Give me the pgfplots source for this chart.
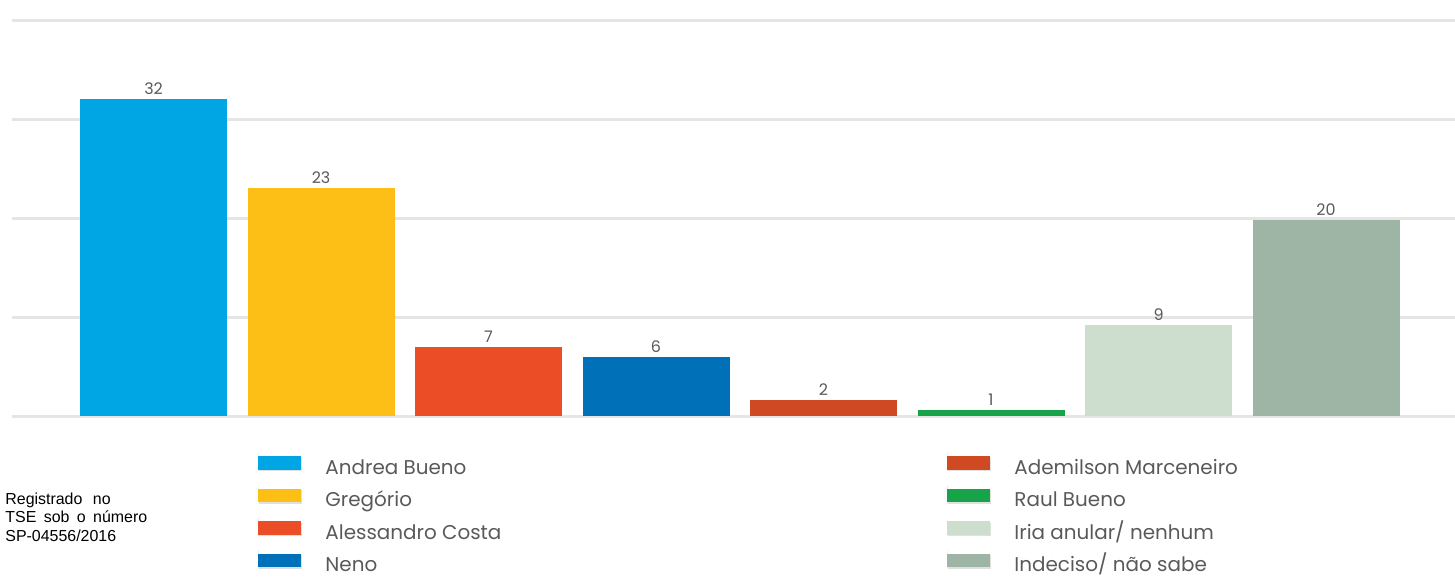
\documentclass[border=0pt]{standalone}
\usepackage{pgfplots}
\pgfplotsset{compat=1.18}
\usepackage{fontspec}
\setmainfont{Poppins}
\newfontfamily\footfont{Liberation Sans}

\definecolor{cAndrea}{HTML}{00A5E3}
\definecolor{cGregorio}{HTML}{FDBF16}
\definecolor{cAlessandro}{HTML}{EB4E26}
\definecolor{cNeno}{HTML}{0070B8}
\definecolor{cAdemilson}{HTML}{CF4A22}
\definecolor{cRaul}{HTML}{17A34A}
\definecolor{cIria}{HTML}{CDDDCE}
\definecolor{cIndeciso}{HTML}{9EB5A6}

\begin{document}
\begin{tikzpicture}
\useasboundingbox (0,0) rectangle (727.5bp,290.5bp);
\begin{axis}[
  at={(6bp,82.5bp)}, anchor=south west,
  scale only axis, width=721.5bp, height=198bp,
  xmin=-0.845, xmax=7.77, ymin=0, ymax=40,
  ytick={0,10,20,30,40}, yticklabels={}, xtick=\empty,
  ymajorgrids, major grid style={draw=black!10, line width=1.5bp},
  axis line style={draw=none}, major tick length=0pt,
  clip=false,
  point meta=explicit symbolic,
  nodes near coords,
  every node near coord/.append style={font=\fontsize{8}{8}\selectfont, text=black!65, inner sep=2bp, anchor=south},
  mybar/.style={ybar, bar width=73.5bp, bar shift=0pt, draw=none, fill=#1,
    legend image code/.code={\path (0bp,8bp) -- (0bp,-1.25bp);
      \fill[black!12] (0.5bp,-1.25bp) rectangle (22bp,5.5bp);
      \fill[#1] (0bp,-0.5bp) rectangle (21.5bp,6.25bp);}},
  legend columns=2,
  legend cell align=left,
  legend style={at={(0.1705,-0.092)}, anchor=north west, draw=none, fill=none,
    inner sep=0pt, font=\fontsize{10}{12}\selectfont, text=black!65,
    nodes={inner sep=0pt, text height=8bp, text depth=2.5bp},
    column sep=11.5bp, row sep=3bp},
]
\addplot[mybar=cAndrea] coordinates {(0,32) [32]};
\addlegendentry{\makebox[299.5bp][l]{Andrea Bueno}}
\addplot[mybar=cAdemilson] coordinates {(4,1.6) [2]};
\addlegendentry{Ademilson Marceneiro}
\addplot[mybar=cGregorio] coordinates {(1,23) [23]};
\addlegendentry{\makebox[299.5bp][l]{Gregório}}
\addplot[mybar=cRaul] coordinates {(5,0.6) [1]};
\addlegendentry{Raul Bueno}
\addplot[mybar=cAlessandro] coordinates {(2,7) [7]};
\addlegendentry{\makebox[299.5bp][l]{Alessandro Costa}}
\addplot[mybar=cIria] coordinates {(6,9.2) [9]};
\addlegendentry{Iria anular/ nenhum}
\addplot[mybar=cNeno] coordinates {(3,6) [6]};
\addlegendentry{\makebox[299.5bp][l]{Neno}}
\addplot[mybar=cIndeciso] coordinates {(7,19.8) [20]};
\addlegendentry{Indeciso/ não sabe}
\end{axis}
\node[anchor=base west, inner sep=0pt, font=\footfont\fontsize{8}{9}\selectfont] at (2.5bp,38.5bp) {Registrado\hspace{3bp} no};
\node[anchor=base west, inner sep=0pt, font=\footfont\fontsize{8}{9}\selectfont] at (2.5bp,29.5bp) {TSE\hspace{1.5bp} sob\hspace{1.5bp} o\hspace{1.5bp} número};
\node[anchor=base west, inner sep=0pt, font=\footfont\fontsize{8}{9}\selectfont] at (2.5bp,20bp) {SP-04556/2016};
\end{tikzpicture}
\end{document}
